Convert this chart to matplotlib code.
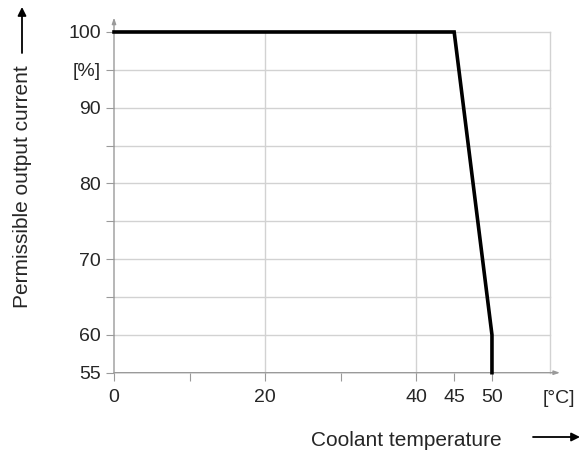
import matplotlib
matplotlib.use("Agg")
import matplotlib.pyplot as plt

plt.rcParams['font.family'] = ['Liberation Sans', 'DejaVu Sans']

# Derating curve: permissible output current vs coolant temperature
temp_c = [0, 45, 50, 50]
current_pct = [100, 100, 60, 55]

x_ticks = [0, 10, 20, 30, 40, 45, 50]
x_labels = ['0', '', '20', '', '40', '45', '50']
y_ticks = [55, 60, 65, 70, 75, 80, 85, 90, 95, 100]
y_labels = ['55', '60', '', '70', '', '80', '', '90', '[%]', '100']
x_grid = [20, 40]

W, H = 581, 455
fig = plt.figure(figsize=(W / 100, H / 100), dpi=100)

# axes placed in pixel terms
left_px, right_px = 114, 560
bottom_px, top_px = 372.7, 17.6
ax = fig.add_axes([left_px / W, (H - bottom_px) / H,
                   (right_px - left_px) / W, (bottom_px - top_px) / H])
xmax = 59.0
ymax = 101.9
x_edge = 57.7
ax.set_xlim(0, xmax)
ax.set_ylim(55, ymax)
for s in ax.spines.values():
    s.set_visible(False)

grid_c = '#d2d2d2'
axis_c = '#9a9a9a'
text_c = '#262626'

# horizontal grid
for y in y_ticks[1:]:
    ax.plot([0, x_edge], [y, y], color=grid_c, lw=1.0, zorder=1, clip_on=False)
# vertical grid + right border
for x in x_grid + [x_edge]:
    ax.plot([x, x], [55, 100], color=grid_c, lw=1.0, zorder=1, clip_on=False)

# axes lines with arrowheads
ax.annotate('', xy=(0, ymax), xytext=(0, 55), xycoords='data',
            arrowprops=dict(arrowstyle='-|>,head_length=0.35,head_width=0.12',
                            color=axis_c, lw=1.0, shrinkA=0, shrinkB=0),
            annotation_clip=False, zorder=2)
ax.annotate('', xy=(xmax, 55), xytext=(0, 55), xycoords='data',
            arrowprops=dict(arrowstyle='-|>,head_length=0.35,head_width=0.12',
                            color=axis_c, lw=1.0, shrinkA=0, shrinkB=0),
            annotation_clip=False, zorder=2)

ax.set_xticks(x_ticks)
ax.set_xticklabels(x_labels)
ax.set_yticks(y_ticks)
ax.set_yticklabels(y_labels)
ax.tick_params(axis='both', direction='out', length=5.5, width=0.8,
               color=axis_c, labelsize=14, labelcolor=text_c)
ax.tick_params(axis='x', pad=6)
ax.tick_params(axis='y', pad=4)

# unit label at the end of the temperature axis
ax.text(58.8, 52.7, '[°C]', ha='center', va='top', fontsize=14,
        color=text_c, clip_on=False)

# derating curve
ax.plot(temp_c, current_pct, color='black', lw=2.6, zorder=5,
        solid_joinstyle='miter', clip_on=False)

# axis titles with arrows
fig.text(23 / W, 1 - 187 / H, 'Permissible output current', rotation=90,
         ha='center', va='center', fontsize=15, color=text_c)
fig.text(406 / W, 1 - 440 / H, 'Coolant temperature',
         ha='center', va='center', fontsize=15, color=text_c)
fig.patches.append(matplotlib.patches.FancyArrowPatch(
    (22 / W, 1 - 53 / H), (22 / W, 1 - 7 / H), transform=fig.transFigure,
    arrowstyle='-|>,head_length=5,head_width=2.5', color='black', lw=1.3,
    shrinkA=0, shrinkB=0))
fig.patches.append(matplotlib.patches.FancyArrowPatch(
    (533 / W, 1 - 437 / H), (580 / W, 1 - 437 / H), transform=fig.transFigure,
    arrowstyle='-|>,head_length=5,head_width=2.5', color='black', lw=1.3,
    shrinkA=0, shrinkB=0))

fig.savefig('out.png', dpi=100)
